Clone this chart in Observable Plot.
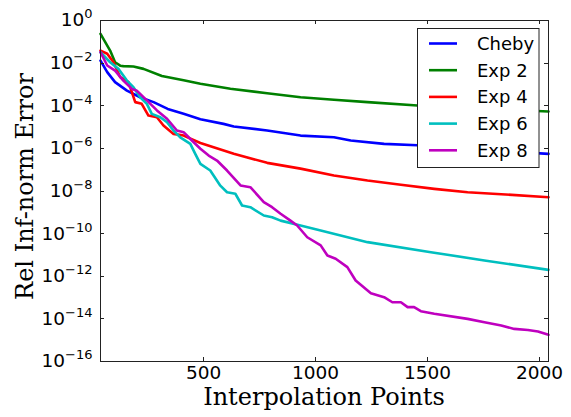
<!DOCTYPE html>
<html><head><meta charset="utf-8">
<script src="https://cdn.jsdelivr.net/npm/d3@7"></script>
<script src="https://cdn.jsdelivr.net/npm/@observablehq/plot@0.6"></script>
<style>body{margin:0;background:#fff}</style>
</head><body><div id="chart"></div>
<script>
const seriesNames = ["Cheby", "Exp 2", "Exp 4", "Exp 6", "Exp 8"];
const seriesColors = ["#0000ff", "#008000", "#ff0000", "#00bfbf", "#bf00bf"];
const xTicks = [500, 1000, 1500, 2000];
const yTickExponents = [0, -2, -4, -6, -8, -10, -12, -14, -16];
const xLabel = "Interpolation Points";
const yLabel = "Rel Inf-norm Error";

// values are read as log10(error)
const chebyX   = [40, 70, 105, 158, 217, 277, 340, 411, 486, 589, 635, 784, 933, 1082, 1157, 1306, 1455, 1700, 2040];
const chebyLog = [-1.88, -2.42, -2.89, -3.29, -3.6, -3.83, -4.15, -4.38, -4.63, -4.85, -4.97, -5.16, -5.4, -5.48, -5.63, -5.79, -5.85, -6.05, -6.26];

const exp2X   = [40, 83, 105, 128, 142, 187, 232, 314, 411, 486, 620, 784, 933, 1082, 1232, 1455, 1750, 2040];
const exp2Log = [-0.63, -1.41, -1.96, -2.12, -2.14, -2.16, -2.27, -2.6, -2.8, -2.97, -3.2, -3.41, -3.6, -3.72, -3.83, -3.99, -4.14, -4.27];

const exp4X   = [40, 70, 98, 128, 165, 195, 224, 254, 292, 321, 366, 411, 486, 635, 784, 933, 1082, 1232, 1381, 1530, 1679, 1829, 2040];
const exp4Log = [-1.41, -1.56, -1.96, -2.66, -2.89, -3.83, -3.91, -4.46, -4.54, -4.93, -5.32, -5.4, -5.75, -6.25, -6.68, -6.95, -7.27, -7.51, -7.71, -7.9, -8.06, -8.15, -8.29];

const exp6X   = [40, 83, 120, 158, 187, 217, 247, 269, 307, 337, 366, 396, 441, 463, 486, 530, 575, 605, 642, 672, 709, 769, 806, 844, 933, 1023, 1232, 1515, 1754, 2040];
const exp6Log = [-1.49, -1.96, -2.27, -2.82, -3.13, -3.6, -3.91, -4.38, -4.54, -4.77, -5.16, -5.48, -5.79, -6.26, -6.73, -7.04, -7.75, -8.06, -8.13, -8.68, -8.76, -9.15, -9.23, -9.39, -9.62, -9.85, -10.4, -10.87, -11.26, -11.7];

const exp8X   = [40, 70, 105, 142, 180, 202, 247, 292, 337, 381, 411, 448, 486, 523, 560, 605, 665, 709, 769, 806, 844, 888, 918, 963, 1023, 1053, 1090, 1142, 1179, 1247, 1306, 1343, 1381, 1411, 1440, 1470, 1530, 1679, 1754, 1829, 1887, 1948, 1993, 2040];
const exp8Log = [-1.49, -2.11, -2.35, -2.82, -3.21, -3.29, -3.75, -4.22, -4.61, -5.16, -5.24, -5.63, -6.02, -6.34, -6.57, -7.04, -7.74, -7.82, -8.52, -8.76, -9.07, -9.39, -9.62, -10.17, -10.55, -11.03, -11.18, -11.57, -12.2, -12.8, -12.98, -13.22, -13.22, -13.45, -13.45, -13.64, -13.76, -14.0, -14.16, -14.31, -14.47, -14.52, -14.59, -14.75];

const seriesX = [chebyX, exp2X, exp4X, exp6X, exp8X];
const seriesLog = [chebyLog, exp2Log, exp4Log, exp6Log, exp8Log];
const rows = [];
seriesNames.forEach((name, i) => {
  seriesX[i].forEach((x, j) => rows.push({series: name, x, y: Math.pow(10, seriesLog[i][j])}));
});
const yTicks = yTickExponents.map(e => Math.pow(10, e));

const W = 571, H = 417, ML = 100, MR = 23, MT = 20, MB = 56;
const chart = Plot.plot({
  width: W, height: H,
  marginLeft: ML, marginRight: MR, marginTop: MT, marginBottom: MB,
  style: {fontFamily: "'DejaVu Sans', sans-serif", fontSize: "18.5px", background: "white", color: "black", overflow: "visible"},
  x: {domain: [40, 2040]},
  y: {type: "log", domain: [1e-16, 1]},
  color: {domain: seriesNames, range: seriesColors},
  marks: [
    Plot.axisX(xTicks, {tickSize: 0, tickPadding: 4, label: null, tickFormat: d => String(d)}),
    Plot.axisY(yTicks, {tickSize: 0, tickPadding: 8, label: null, tickFormat: d => "10^" + Math.round(Math.log10(d))}),
    Plot.line(rows, {x: "x", y: "y", z: "series", stroke: "series", strokeWidth: 2.6, strokeLinejoin: "round"}),
    Plot.frame({stroke: "#222", strokeWidth: 1})
  ]
});
document.getElementById("chart").appendChild(chart);

const svg = d3.select(chart);
const sx = v => chart.scale("x").apply(v);
const sy = v => chart.scale("y").apply(v);
const fLeft = ML, fRight = W - MR, fTop = MT, fBottom = H - MB;

// superscript exponents on y tick labels
svg.selectAll('g[aria-label="y-axis tick label"] text').each(function() {
  const t = d3.select(this);
  const s = t.text();
  const m = s.match(/^10\^(-?\d+)$/);
  if (!m) return;
  t.text(null);
  t.append("tspan").text("10");
  t.append("tspan").attr("font-size", "13px").attr("dy", "-8").text(m[1].replace("-", "\u2212"));
});

// inward tick marks
const tg = svg.append("g").attr("stroke", "#222").attr("stroke-width", 1);
const TL = 4;
xTicks.forEach(v => {
  const X = Math.round(sx(v)) + 0.5;
  tg.append("line").attr("x1", X).attr("x2", X).attr("y1", fBottom).attr("y2", fBottom - TL);
  tg.append("line").attr("x1", X).attr("x2", X).attr("y1", fTop).attr("y2", fTop + TL);
});
yTicks.forEach(v => {
  const Y = Math.round(sy(v)) + 0.5;
  tg.append("line").attr("x1", fLeft).attr("x2", fLeft + TL).attr("y1", Y).attr("y2", Y);
  tg.append("line").attr("x1", fRight).attr("x2", fRight - TL).attr("y1", Y).attr("y2", Y);
});

// axis labels
svg.append("text").attr("x", (fLeft + fRight) / 2).attr("y", 405).attr("text-anchor", "middle")
  .attr("font-family", "'DejaVu Serif', serif").attr("font-size", "24px").attr("fill", "black").text(xLabel);
svg.append("text").attr("transform", `translate(33,${(fTop + fBottom) / 2 - 4}) rotate(-90)`).attr("text-anchor", "middle")
  .attr("font-family", "'DejaVu Serif', serif").attr("font-size", "24px").attr("fill", "black").text(yLabel);

// legend
const lg = svg.append("g");
lg.append("rect").attr("x", 417.5).attr("y", 28.5).attr("width", 121.5).attr("height", 139)
  .attr("fill", "white").attr("stroke", "#222").attr("stroke-width", 1);
seriesNames.forEach((name, i) => {
  const Y = 43.5 + i * 26.7;
  lg.append("line").attr("x1", 429).attr("x2", 457).attr("y1", Y).attr("y2", Y)
    .attr("stroke", seriesColors[i]).attr("stroke-width", 2.6);
  lg.append("text").attr("x", 477).attr("y", Y).attr("dy", "0.36em").attr("text-anchor", "start")
    .attr("font-family", "'DejaVu Sans', sans-serif").attr("font-size", "18px").attr("fill", "black").text(name);
});
</script>
</body></html>
